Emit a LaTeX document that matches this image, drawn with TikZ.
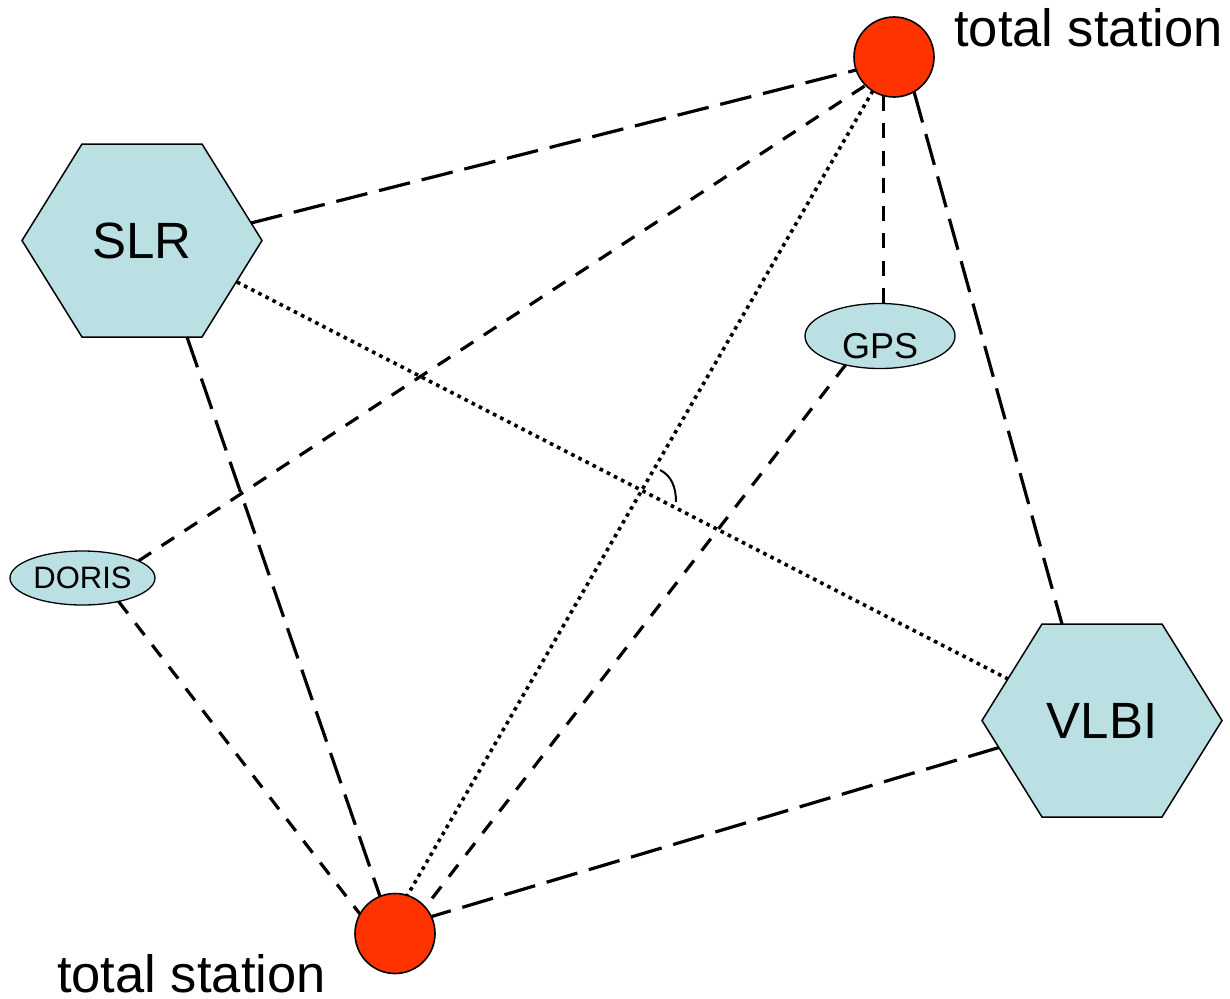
\documentclass[tikz,border=0pt]{standalone}
\usepackage{fontspec}
\setmainfont{Liberation Sans}
\usetikzlibrary{calc,backgrounds,shapes.geometric}
\definecolor{hexblue}{RGB}{187,224,227}
\definecolor{tsred}{RGB}{255,51,0}
\begin{document}
\begin{tikzpicture}[x=1pt,y=-1pt,
  station/.style={circle,draw=black,line width=1.6pt,fill=tsred,minimum size=80pt,inner sep=0pt,outer sep=0pt},
  hexnode/.style={rectangle,minimum width=240pt,minimum height=193pt,inner sep=0pt,outer sep=0pt,font=\fontsize{51}{51}\selectfont},
  hexshape/.style={draw=black,line width=1.5pt,fill=hexblue,line join=miter},
  sensor/.style={ellipse,draw=black,line width=1.3pt,fill=hexblue,inner sep=0pt,outer sep=0pt},
  ldash/.style={line width=3.2pt,dash pattern=on 32pt off 12pt},
  sdash/.style={line width=3.2pt,dash pattern=on 15pt off 12.5pt},
  dotline/.style={line width=3.6pt,dash pattern=on 3.6pt off 4.4pt},
  anglemark/.style={line width=2pt},
  stationlabel/.style={font=\fontsize{52.5}{60}\selectfont,inner sep=0pt}
]
\useasboundingbox (0,0) rectangle (1230,998);

% nodes
\node[station] (ts1) at (894,57) {};
\node[station] (ts2) at (395,933.5) {};
\node[hexnode] (slr) at (142,240.5) {SLR};
\node[hexnode] (vlbi) at (1102,720.5) {VLBI};
\node[sensor,minimum width=150pt,minimum height=65pt,font=\fontsize{36}{36}\selectfont] (gps) at (880,336) {\raisebox{-22pt}[0pt][0pt]{GPS}};
\node[sensor,minimum width=145pt,minimum height=54pt,font=\fontsize{31}{31}\selectfont] (doris) at (82.5,578) {DORIS};

% hexagon outlines
\begin{scope}[on background layer]
\path[hexshape] (slr.west) -- ($(slr.north west)+(60,0)$) -- ($(slr.north east)+(-60,0)$) -- (slr.east) -- ($(slr.south east)+(-60,0)$) -- ($(slr.south west)+(60,0)$) -- cycle;
\path[hexshape] (vlbi.west) -- ($(vlbi.north west)+(60,0)$) -- ($(vlbi.north east)+(-60,0)$) -- (vlbi.east) -- ($(vlbi.south east)+(-60,0)$) -- ($(vlbi.south west)+(60,0)$) -- cycle;
\end{scope}

% labels
\node[stationlabel,anchor=base west] (lab1) at (954,46) {total station};
\node[stationlabel,anchor=base west] (lab2) at (57,992) {total station};

% connectors
\draw[ldash] ($(slr.center)+(109,-17.5)$) -- (ts1.199);
\draw[ldash] ($(slr.center)+(45,96.5)$) -- (ts2.112);
\draw[ldash] (ts1.300) -- ($(vlbi.center)+(-40,-96.5)$);
\draw[ldash] ($(vlbi.center)+(-103,27)$) -- (ts2.25);
\draw[sdash] (doris.17) -- (ts1.225);
\draw[sdash] (doris.-33) -- (ts2.151);
\draw[sdash] (ts1.255) -- (ts1.255 |- gps.north);
\draw[sdash] (gps.220) -- (ts2.41);
\draw[dotline] ($(slr.center)+(95,41.5)$) -- ($(vlbi.center)+(-94,-41.5)$);
\draw[dotline] (ts1.238) -- (ts2.72);

% angle mark
\coordinate (angA) at (660,470);
\coordinate (angB) at (676,502);
\draw[anglemark] (angA) .. controls (672,476) and (676,488) .. (angB);
\end{tikzpicture}
\end{document}
